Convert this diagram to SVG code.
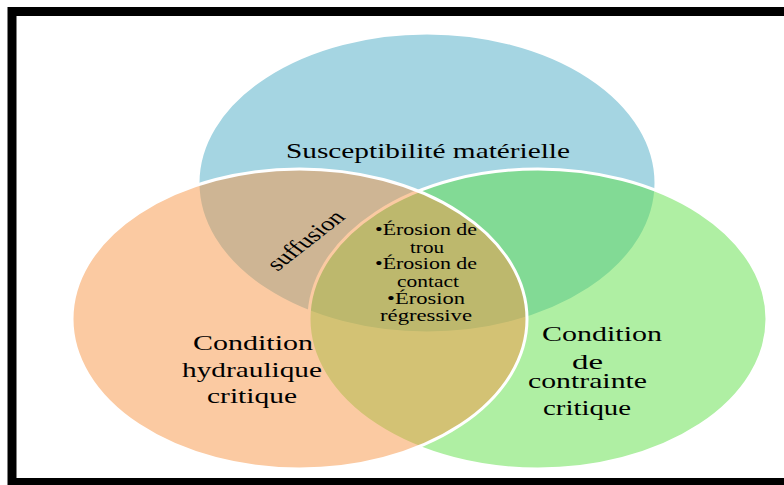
<svg xmlns="http://www.w3.org/2000/svg" width="784" height="485" viewBox="0 0 784 485">
  <style>
    .circle { stroke: #ffffff; stroke-width: 3; fill-opacity: 0.5; }
    .lbl { font-family: "Liberation Serif", "Times New Roman", serif; fill: #000; }
    .big { font-size: 22px; }
    .small { font-size: 17px; }
  </style>
  <rect x="0" y="0" width="784" height="485" fill="#ffffff"/>
  <rect id="frame" x="12" y="11.5" width="790" height="471" fill="none" stroke="#000" stroke-width="9"/>

  <g id="susceptibilite">
    <ellipse class="circle" cx="427" cy="183" rx="229" ry="150" fill="#4BACC6"/>
    <text class="lbl big" x="286" y="158" textLength="284" lengthAdjust="spacingAndGlyphs">Susceptibilité matérielle</text>
  </g>

  <g id="contrainte">
    <ellipse class="circle" cx="538" cy="319" rx="229" ry="150" fill="#60E048"/>
    <text class="lbl big" x="542" y="341" textLength="120" lengthAdjust="spacingAndGlyphs">Condition</text>
    <text class="lbl big" x="572" y="369" textLength="31" lengthAdjust="spacingAndGlyphs">de</text>
    <text class="lbl big" x="528" y="388" textLength="119" lengthAdjust="spacingAndGlyphs">contrainte</text>
    <text class="lbl big" x="543" y="415" textLength="88" lengthAdjust="spacingAndGlyphs">critique</text>
  </g>

  <g id="hydraulique">
    <ellipse class="circle" cx="299.5" cy="319" rx="227.5" ry="150" fill="#F79646"/>
    <text class="lbl big" x="193" y="350" textLength="120" lengthAdjust="spacingAndGlyphs">Condition</text>
    <text class="lbl big" x="182" y="377" textLength="140" lengthAdjust="spacingAndGlyphs">hydraulique</text>
    <text class="lbl big" x="207" y="403" textLength="90" lengthAdjust="spacingAndGlyphs">critique</text>
  </g>

  <g id="suffusion">
    <text class="lbl" font-size="20" text-anchor="middle" transform="translate(305,240) scale(1.35,1) rotate(-46.5)" dy="7">suffusion</text>
  </g>

  <g id="erosion">
    <text class="lbl small" x="375" y="235" textLength="102" lengthAdjust="spacingAndGlyphs">•Érosion de</text>
    <text class="lbl small" x="410" y="253" textLength="34" lengthAdjust="spacingAndGlyphs">trou</text>
    <text class="lbl small" x="375" y="269" textLength="102" lengthAdjust="spacingAndGlyphs">•Érosion de</text>
    <text class="lbl small" x="397" y="287" textLength="62" lengthAdjust="spacingAndGlyphs">contact</text>
    <text class="lbl small" x="387" y="304" textLength="78" lengthAdjust="spacingAndGlyphs">•Érosion</text>
    <text class="lbl small" x="380" y="321" textLength="92" lengthAdjust="spacingAndGlyphs">régressive</text>
  </g>
</svg>
